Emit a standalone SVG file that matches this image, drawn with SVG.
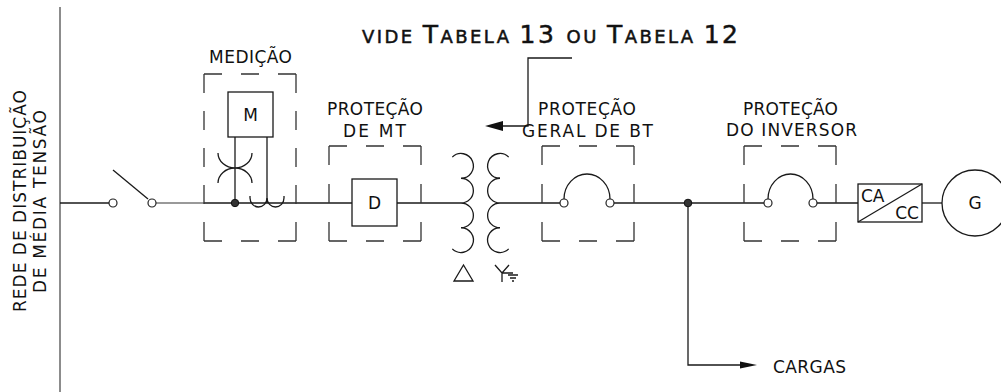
<svg xmlns="http://www.w3.org/2000/svg" width="1001" height="392" viewBox="0 0 1001 392">
<style>
.ln{stroke:#1a1a1a;stroke-width:1.3;fill:none}
.gr{stroke:#777;stroke-width:1.3;fill:none}
.bx{stroke:#333;stroke-width:1.3;fill:none}
.w{stroke:#222;stroke-width:1.2;fill:#fff}
.dot{fill:#333;stroke:#111;stroke-width:1}
.d92{stroke-dasharray:18 19}
.d95{stroke-dasharray:19 19}
.d167{stroke-dasharray:19 18}
.t{font-family:"DejaVu Sans","Liberation Sans",Arial,sans-serif;fill:#111;font-size:17px}
.big{stroke:#111;stroke-width:0.5}
.ah{fill:#111;stroke:none}
</style>
<rect width="1001" height="392" fill="#fff"/>

<g id="rede">
<line x1="60" y1="7" x2="60" y2="392" stroke="#666" stroke-width="1.5"/>
<text class="t" font-size="18" transform="translate(26,312) rotate(-90)" textLength="222" lengthAdjust="spacing">REDE DE DISTRIBUIÇÃO</text>
<text class="t" font-size="18" transform="translate(46,293) rotate(-90)" textLength="183" lengthAdjust="spacing">DE MÉDIA TENSÃO</text>
</g>

<g id="connectors">
<line class="ln" x1="60" y1="203" x2="109" y2="203"/>
<line class="gr" x1="156" y1="203" x2="204" y2="203"/>
<line class="ln" x1="204" y1="203" x2="352" y2="203"/>
<line class="ln" x1="397" y1="203" x2="461" y2="203"/>
<line class="ln" x1="500" y1="203" x2="560" y2="203"/>
<line class="ln" x1="614" y1="203" x2="764" y2="203"/>
<line class="ln" x1="817" y1="203" x2="858" y2="203"/>
<line class="ln" x1="922" y1="203" x2="942" y2="203"/>
<polyline class="ln" points="688,203 688,365 742,365"/>
<polygon class="ah" points="757,365 740,361.5 740,368.5"/>
<polyline class="ln" points="572,58 528,58 528,126 501,126"/>
<polygon class="ah" points="485,126 503,121 503,131"/>
<circle class="dot" cx="688" cy="203" r="3.8"/>
</g>

<g id="seccionadora">
<circle class="w" cx="113" cy="203" r="4"/>
<circle class="w" cx="152" cy="203" r="4"/>
<line class="ln" x1="113" y1="170" x2="148" y2="199"/>
</g>

<g id="medicao">
<text class="t" x="209" y="63" textLength="83" lengthAdjust="spacing">MEDIÇÃO</text>
<line class="bx d92" x1="204" y1="74" x2="296" y2="74"/>
<line class="bx d92" x1="204" y1="241" x2="296" y2="241"/>
<line class="bx d167" x1="204" y1="74" x2="204" y2="241"/>
<line class="bx d167" x1="296" y1="74" x2="296" y2="241"/>
<rect class="ln" x="228" y="92" width="45" height="45" fill="#fff"/>
<text class="t" x="250.5" y="121" text-anchor="middle">M</text>
<line class="ln" x1="235" y1="137" x2="235" y2="203"/>
<line class="ln" x1="267" y1="137" x2="267" y2="203"/>
<path class="ln" d="M218,153 A17 15 0 0 0 252,153 M218,183 A17 15 0 0 1 252,183"/>
<path class="ln" d="M250,196 V198 A8.5 9 0 0 0 267,198 A8.5 9 0 0 0 284,198 V196"/>
<circle class="dot" cx="235" cy="203" r="3.7"/>
</g>

<g id="protecao-mt">
<text class="t" x="327" y="115" textLength="96" lengthAdjust="spacing">PROTEÇÃO</text>
<text class="t" x="343" y="137" textLength="63" lengthAdjust="spacing">DE MT</text>
<line class="bx d92" x1="329" y1="146" x2="421" y2="146"/>
<line class="bx d92" x1="329" y1="241" x2="421" y2="241"/>
<line class="bx d95" x1="329" y1="146" x2="329" y2="241"/>
<line class="bx d95" x1="421" y1="146" x2="421" y2="241"/>
<rect class="ln" x="352" y="179" width="45" height="47" fill="#fff"/>
<text class="t" x="374.5" y="209" text-anchor="middle">D</text>
</g>

<g id="transformador">
<path class="ln" d="M452.3,157.1 A12.375 12.375 0 1 1 461,178.25 A12.375 12.375 0 0 1 461,203 A12.375 12.375 0 0 1 461,227.75 A12.375 12.375 0 1 1 452.3,248.9"/>
<path class="ln" d="M508.7,157.1 A12.375 12.375 0 1 0 500,178.25 A12.375 12.375 0 0 0 500,203 A12.375 12.375 0 0 0 500,227.75 A12.375 12.375 0 1 0 508.7,248.9"/>
<polygon class="ln" points="463.5,265 473,281 454,281"/>
<path class="ln" d="M495,265 L502,273 L509,265 M502,273 V282 M502,273 H513 M508,275 H518 M510,278 H516 M512,281 H514"/>
</g>

<g id="protecao-bt">
<text class="t" x="538" y="115" textLength="98" lengthAdjust="spacing">PROTEÇÃO</text>
<text class="t" x="522" y="137" textLength="131" lengthAdjust="spacing">GERAL DE BT</text>
<line class="bx d92" x1="542" y1="146" x2="634" y2="146"/>
<line class="bx d92" x1="542" y1="241" x2="634" y2="241"/>
<line class="bx d95" x1="542" y1="146" x2="542" y2="241"/>
<line class="bx d95" x1="634" y1="146" x2="634" y2="241"/>
<path class="ln" d="M564,199 A23 25 0 0 1 610,199"/>
<circle class="w" cx="564" cy="203" r="4"/>
<circle class="w" cx="610" cy="203" r="4"/>
</g>

<g id="protecao-inversor">
<text class="t" x="743" y="115" textLength="95" lengthAdjust="spacing">PROTEÇÃO</text>
<text class="t" x="726" y="136" textLength="131" lengthAdjust="spacing">DO INVERSOR</text>
<line class="bx d92" x1="744" y1="146" x2="836" y2="146"/>
<line class="bx d92" x1="744" y1="241" x2="836" y2="241"/>
<line class="bx d95" x1="744" y1="146" x2="744" y2="241"/>
<line class="bx d95" x1="836" y1="146" x2="836" y2="241"/>
<path class="ln" d="M768,199 A22.5 25 0 0 1 813,199"/>
<circle class="w" cx="768" cy="203" r="4"/>
<circle class="w" cx="813" cy="203" r="4"/>
</g>

<g id="inversor">
<rect class="ln" x="858" y="184" width="64" height="38" fill="#fff"/>
<line class="ln" x1="858" y1="222" x2="922" y2="184"/>
<text class="t" x="861" y="202" font-size="16">CA</text>
<text class="t" x="919" y="219" font-size="16" text-anchor="end">CC</text>
</g>

<g id="gerador">
<circle class="ln" cx="975" cy="203" r="33" fill="#fff"/>
<text class="t" x="975" y="209" text-anchor="middle">G</text>
</g>

<g id="nota">
<text class="t big" x="362" y="43" textLength="376" lengthAdjust="spacing"><tspan font-size="18">VIDE </tspan><tspan font-size="25">T</tspan><tspan font-size="18">ABELA </tspan><tspan font-size="25">13 </tspan><tspan font-size="18">OU </tspan><tspan font-size="25">T</tspan><tspan font-size="18">ABELA </tspan><tspan font-size="25">12</tspan></text>
</g>

<g id="cargas">
<text class="t" x="773" y="373" textLength="73" lengthAdjust="spacing">CARGAS</text>
</g>
</svg>
